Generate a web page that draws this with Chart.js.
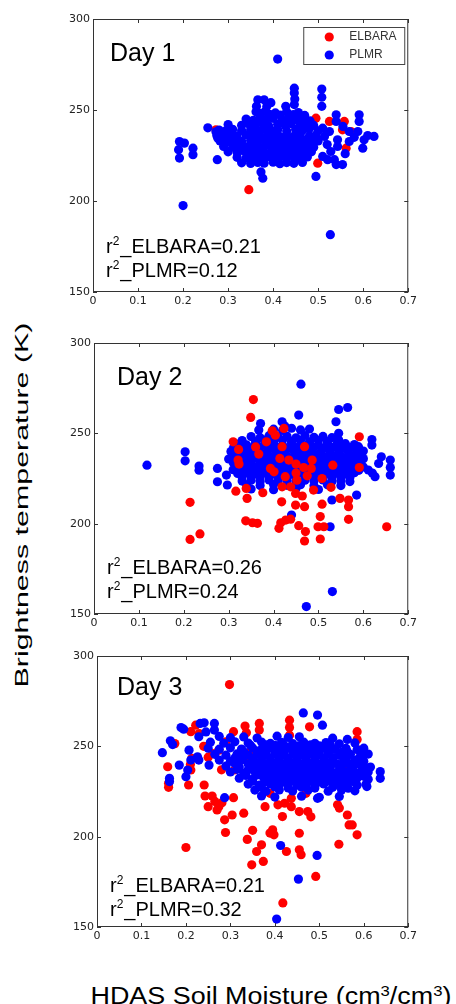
<!DOCTYPE html>
<html>
<head>
<meta charset="utf-8">
<script src="https://cdn.jsdelivr.net/npm/chart.js@4.4.0/dist/chart.umd.min.js"></script>
<style>
  body { margin: 0; background: #fff; width: 456px; height: 1004px; overflow: hidden; position: relative; font-family: 'Liberation Sans', Arial, sans-serif; }
  canvas { position: absolute; left: 60px; }
  #c1 { top: 0; }
  #c2 { top: 320px; }
  #c3 { top: 640px; }
  #ytitle { position: absolute; left: 21px; top: 505px; font-size: 19px; line-height: 1; white-space: nowrap; color: #000;
            transform: translate(-50%, -50%) rotate(-90deg) scaleX(1.6); }
  #xtitle { position: absolute; left: 271px; top: 985px; font-size: 23px; line-height: 1; white-space: nowrap; color: #000;
            transform: translateX(-50%) scaleX(1.17); }
  #xtitle sup { font-size: 0.62em; line-height: 0; vertical-align: 0.55em; }
</style>
</head>
<body>
<canvas id="c1" width="360" height="320"></canvas>
<canvas id="c2" width="360" height="320"></canvas>
<canvas id="c3" width="360" height="320"></canvas>
<div id="ytitle">Brightness temperature (K)</div>
<div id="xtitle">HDAS Soil Moisture (cm<sup>3</sup>/cm<sup>3</sup>)</div>
<script>
const xTicks = [0, 0.1, 0.2, 0.3, 0.4, 0.5, 0.6, 0.7];
const xTickLabels = ['0', '0.1', '0.2', '0.3', '0.4', '0.5', '0.6', '0.7'];
const yTicks = [150, 200, 250, 300];
const seriesNames = ['ELBARA', 'PLMR'];
const dayLabels = ['Day 1', 'Day 2', 'Day 3'];
const r2Elbara = ['0.21', '0.26', '0.21'];
const r2Plmr = ['0.12', '0.24', '0.32'];

// Day 1
const day1Elbara = [
  [0.346,206.2],[0.525,243.7],[0.558,243.7],[0.554,239.1],[0.562,229],[0.495,245.5],[0.499,220.8],
  [0.273,239.1],[0.573,238.2],[0.451,239.1],[0.40,236],[0.36,230]
];
const day1Plmr = [
  [0.41,278],[0.20,197.5],[0.527,181.5],[0.495,213.5],[0.373,216],[0.377,212.5],
  [0.192,232.7],[0.203,231.8],[0.19,228.2],[0.192,223.6],[0.222,229],[0.222,225.4],
  [0.255,240.2],[0.273,238],[0.277,234.6],[0.276,222.7],
  [0.447,262],[0.447,259.3],[0.448,256],[0.508,261.5],[0.508,257],[0.508,252],
  [0.366,255.6],[0.380,255.6],[0.363,252],[0.386,252],[0.395,254],[0.428,252],[0.447,253],
  [0.591,247.4],[0.591,243.7],[0.54,247.4],[0.54,243.7],[0.624,235.5],[0.602,233.6],[0.599,229],
  [0.588,238.2],[0.569,238.2],[0.569,232.7],[0.543,233.6],[0.543,230],[0.528,227.2],[0.521,222.7],
  [0.536,222.7],[0.54,220],[0.554,220],[0.51,224.5],[0.514,235.5],[0.525,238.2],[0.51,240],
  [0.56,226],[0.58,235],[0.61,236],[0.555,241],[0.52,231],
  [0.362,249],[0.372,248.2],[0.383,249.5],[0.392,247.6],[0.405,248.4],[0.416,247.2],[0.43,249],[0.445,247.5],[0.456,248.6],[0.47,247],
  [0.34,245],[0.356,244.3],[0.37,245.6],[0.384,244.8],[0.40,245.4],[0.42,244.5],[0.434,245.8],[0.452,244.6],[0.466,245.2],[0.482,244],
  [0.30,242],[0.33,241.6],[0.345,242.4],[0.36,241.8],[0.376,242.6],[0.39,241.4],[0.41,242.2],[0.426,241.7],[0.44,242.5],[0.46,241.6],[0.476,242.3],[0.49,241.5],
  [0.28,239],[0.295,238.6],[0.31,239.4],[0.33,238.8],[0.35,239.2],[0.366,238.5],[0.38,239.6],[0.396,238.8],[0.41,239.1],[0.43,238.4],[0.45,239.3],[0.465,238.7],[0.48,239.5],[0.50,238.6],
  [0.275,236],[0.29,235.6],[0.305,236.3],[0.32,235.8],[0.34,236.4],[0.355,235.5],[0.37,236.2],[0.386,235.7],[0.40,236.5],[0.415,235.4],[0.43,236.1],[0.446,235.6],[0.46,236.4],[0.48,235.5],[0.495,236.2],
  [0.282,233],[0.30,232.6],[0.315,233.4],[0.33,232.8],[0.35,233.2],[0.365,232.5],[0.38,233.5],[0.395,232.7],[0.41,233.3],[0.425,232.4],[0.44,233.1],[0.456,232.6],[0.47,233.4],[0.486,232.5],[0.50,233],
  [0.29,230],[0.31,229.6],[0.325,230.4],[0.34,229.8],[0.356,230.2],[0.37,229.5],[0.385,230.6],[0.40,229.7],[0.415,230.3],[0.43,229.4],[0.446,230.1],[0.46,229.6],[0.475,230.4],[0.49,229.5],
  [0.30,227],[0.32,226.6],[0.336,227.3],[0.35,226.8],[0.366,227.2],[0.38,226.5],[0.396,227.4],[0.41,226.7],[0.425,227.1],[0.44,226.4],[0.456,227.2],[0.47,226.6],[0.485,227],
  [0.32,224],[0.34,223.6],[0.356,224.3],[0.37,223.8],[0.386,224.2],[0.40,223.5],[0.415,224.4],[0.43,223.7],[0.446,224.1],[0.46,223.4],[0.476,224.2],
  [0.33,221],[0.35,220.6],[0.366,221.2],[0.38,220.8],[0.40,221.3],[0.415,220.5],[0.43,221.1],[0.446,220.7],[0.465,221.2]
];

// Day 2
const day2Elbara = [
  [0.355,268.7],[0.349,258.8],[0.423,252.7],[0.397,251.4],[0.384,245.3],[0.404,249],[0.31,245.3],[0.322,241.1],
  [0.321,235.2],[0.323,233],[0.367,238.5],[0.419,242.6],[0.469,242.6],[0.591,248.1],[0.591,231.1],
  [0.414,236.1],[0.434,235.2],[0.486,235.2],[0.484,230.6],[0.467,231.1],[0.532,232.4],[0.393,230.6],[0.401,228.7],
  [0.426,226],[0.45,228],[0.508,225],[0.452,224.1],[0.419,220.4],[0.438,220.4],[0.489,218.6],[0.528,220.1],
  [0.316,218],[0.339,219.5],[0.341,214],[0.376,217.1],[0.418,212.1],[0.449,216.7],[0.449,210.3],[0.464,215.3],
  [0.469,209.4],[0.508,210.8],[0.548,214],[0.567,213.1],[0.567,209.4],[0.567,202.4],[0.504,203.9],[0.499,198.3],[0.512,198.3],
  [0.214,211.8],[0.214,191.3],[0.236,194.3],[0.338,201.6],[0.353,200.5],[0.364,200.2],[0.416,200.5],[0.427,202],
  [0.438,202.5],[0.412,197.4],[0.456,198.9],[0.471,195.6],[0.469,190.4],[0.504,191.5],[0.652,198.3],
  [0.45,233],[0.475,226.5],[0.36,242.5]
];
const day2Plmr = [
  [0.461,277.2],[0.118,232.4],[0.203,239.8],[0.203,234.8],[0.234,231.9],[0.234,229.6],[0.275,230.6],[0.275,223.2],
  [0.295,226.9],[0.297,221.4],[0.545,263.2],[0.565,264.3],[0.539,256.4],[0.456,260.1],[0.419,256.4],[0.425,254],
  [0.371,255.4],[0.367,251.8],[0.619,246.6],[0.619,243.5],[0.634,233.3],[0.66,235.2],[0.66,231.1],[0.66,226.9],
  [0.626,226],[0.611,229.7],[0.589,242.6],[0.585,215.8],[0.53,213.1],[0.526,198.3],[0.44,204.8],[0.531,162.4],
  [0.473,154.1],[0.545,250],[0.545,246],[0.64,237],[0.62,228],
  [0.40,252.3],[0.42,251.6],[0.44,252.8],[0.46,251.9],[0.48,252.4],
  [0.35,248.2],[0.37,247.6],[0.39,248.7],[0.41,247.9],[0.43,248.4],[0.45,247.5],[0.47,248.8],[0.49,247.8],[0.51,248.3],[0.53,247.6],
  [0.33,246],[0.36,245.4],[0.38,246.2],[0.40,245.7],[0.42,246.3],[0.44,245.5],[0.46,246.1],[0.48,245.3],[0.50,246],[0.52,245.4],[0.545,246.2],
  [0.32,244.1],[0.34,243.6],[0.36,244.3],[0.38,243.8],[0.40,244.4],[0.42,243.5],[0.44,244.2],[0.46,243.7],[0.48,244.5],[0.50,243.6],[0.52,244.1],[0.54,243.5],[0.56,244.3],[0.58,243.8],
  [0.31,241.6],[0.33,242.2],[0.35,241.5],[0.37,242.4],[0.39,241.8],[0.41,242.3],[0.43,241.4],[0.45,242.1],[0.47,241.6],[0.49,242.4],[0.51,241.7],[0.53,242.2],[0.55,241.5],[0.57,242],[0.59,241.4],
  [0.305,239.9],[0.325,240.3],[0.345,239.6],[0.365,240.4],[0.385,239.7],[0.405,240.2],[0.425,239.5],[0.445,240.3],[0.465,239.8],[0.485,240.4],[0.505,239.6],[0.525,240.1],[0.545,239.7],[0.565,240.3],[0.585,239.5],[0.60,240.2],
  [0.31,237.8],[0.33,238.2],[0.35,237.5],[0.37,238.3],[0.39,237.6],[0.41,238.1],[0.43,237.4],[0.45,238.2],[0.47,237.7],[0.49,238.3],[0.51,237.5],[0.53,238],[0.55,237.6],[0.57,238.2],[0.59,237.4],
  [0.30,235.8],[0.32,236.3],[0.34,235.6],[0.36,236.4],[0.38,235.7],[0.40,236.2],[0.42,235.5],[0.44,236.3],[0.46,235.8],[0.48,236.4],[0.50,235.6],[0.52,236.1],[0.54,235.7],[0.56,236.3],[0.58,235.5],[0.60,236],
  [0.31,233.9],[0.33,234.3],[0.35,233.6],[0.37,234.4],[0.39,233.7],[0.41,234.2],[0.43,233.5],[0.45,234.3],[0.47,233.8],[0.49,234.4],[0.51,233.6],[0.53,234.1],[0.55,233.7],[0.57,234.3],[0.59,233.5],
  [0.32,231.8],[0.34,232.2],[0.36,231.5],[0.38,232.3],[0.40,231.6],[0.42,232.1],[0.44,231.4],[0.46,232.2],[0.48,231.7],[0.50,232.3],[0.52,231.5],[0.54,232],[0.56,231.6],[0.58,232.2],[0.60,231.4],
  [0.31,229.9],[0.33,230.3],[0.35,229.6],[0.37,230.4],[0.39,229.7],[0.41,230.2],[0.43,229.5],[0.45,230.3],[0.47,229.8],[0.49,230.4],[0.51,229.6],[0.53,230.1],[0.55,229.7],[0.57,230.3],[0.59,229.5],
  [0.32,227.8],[0.34,228.2],[0.36,227.5],[0.38,228.3],[0.40,227.6],[0.42,228.1],[0.44,227.4],[0.46,228.2],[0.48,227.7],[0.50,228.3],[0.52,227.5],[0.54,228],[0.56,227.6],[0.58,228.2],
  [0.33,225.8],[0.35,226.2],[0.37,225.5],[0.39,226.3],[0.41,225.6],[0.43,226.1],[0.45,225.4],[0.47,226.2],[0.49,225.7],[0.51,226.3],[0.53,225.5],[0.55,226],[0.57,225.6],
  [0.33,223.6],[0.35,224.1],[0.37,223.4],[0.39,224.2],[0.41,223.5],[0.43,224],[0.45,223.3],[0.47,224.1],[0.49,223.6],[0.51,224.2],[0.53,223.4],[0.55,223.9],[0.57,223.3],
  [0.34,221.5],[0.37,221.1],[0.40,221.7],[0.43,221.2],[0.46,221.6],[0.49,221],[0.52,221.5],[0.55,221.1],
  [0.35,219.2],[0.40,218.8],[0.45,219.4],[0.50,218.9]
];

// Day 3
const day3Elbara = [
  [0.298,284.2],[0.2,194],[0.211,258.1],[0.222,261.7],[0.23,257.1],[0.175,251.5],[0.159,238.7],[0.161,227.3],
  [0.161,229.5],[0.206,228.6],[0.211,236.9],[0.213,243.3],[0.21,240],
  [0.241,228.6],[0.243,222.5],[0.259,222.5],[0.25,216.6],[0.27,214.8],[0.287,209.3],[0.289,202.3],[0.281,218.8],
  [0.307,221.6],[0.304,212],[0.33,213],[0.274,216.6],[0.265,219.5],
  [0.274,247.9],[0.307,258.1],[0.333,261.2],[0.336,257.5],[0.365,262.7],[0.365,259],[0.433,264.5],[0.433,260.4],
  [0.433,256.2],[0.478,260.8],[0.585,258.1],[0.585,253.8],[0.589,247.9],[0.604,236],[0.604,233.2],
  [0.348,184.4],[0.374,186.3],[0.37,195.5],[0.359,191.8],[0.395,203.8],[0.398,201],[0.389,202],[0.422,218.5],
  [0.417,211.1],[0.426,191.8],[0.407,217.6],[0.437,216.6],[0.455,213.9],[0.474,213.9],[0.455,201.9],[0.455,192.7],
  [0.459,190],[0.492,178],[0.418,163.3],
  [0.541,217.6],[0.545,215.8],[0.567,206.5],[0.563,212],[0.574,206.5],[0.585,201],[0.544,195.8],
  [0.389,224],[0.378,216.6],[0.437,221.2],[0.47,224],[0.481,211],[0.35,203.5],[0.338,198.5],
  [0.355,236.9],[0.466,229.5],[0.43,240],[0.38,232],[0.50,238],[0.41,246],[0.52,234],[0.56,240],[0.55,230],[0.31,237],[0.32,245],
  [0.24,250],[0.26,246],[0.29,252.5],[0.345,247],[0.39,240.5],[0.44,233.5],[0.47,244],[0.34,241],[0.28,237],[0.25,244]
];
const day3Plmr = [
  [0.147,246.5],[0.165,253.1],[0.163,232.3],[0.163,230.5],[0.189,260.4],[0.195,259.5],[0.232,262.7],[0.241,263],
  [0.229,255.3],[0.207,247.9],[0.226,244.2],[0.185,239.6],[0.2,233.2],[0.204,236.9],[0.211,242.4],[0.229,242.4],
  [0.252,239.6],[0.264,262.7],[0.264,259],[0.287,221.6],[0.464,268.5],[0.496,267.3],[0.507,261.7],[0.637,236],
  [0.637,232.3],[0.607,227.7],[0.496,221.2],[0.554,233.2],[0.563,247],[0.404,154.4],[0.453,176.5],[0.495,189.6],
  [0.413,195.1],[0.17,251],[0.245,258],
  [0.275,255.5],[0.30,254.8],[0.33,255.2],[0.36,254.6],[0.405,255.6],[0.43,254.9],[0.455,255.3],[0.53,254.5],[0.563,253.8],
  [0.255,252.3],[0.285,251.7],[0.31,252.5],[0.34,251.8],[0.37,252.4],[0.39,251.6],[0.415,252.2],[0.44,251.5],[0.465,252.3],[0.49,251.7],[0.515,252.1],[0.545,251.4],[0.58,251.9],
  [0.25,249],[0.275,248.4],[0.30,249.2],[0.325,248.5],[0.35,249.1],[0.37,248.3],[0.39,249.3],[0.41,248.6],[0.43,249.2],[0.45,248.4],[0.47,249],[0.49,248.5],[0.51,249.1],[0.535,248.3],[0.56,248.9],[0.585,248.2],[0.60,249],
  [0.265,245.6],[0.29,245.1],[0.315,245.8],[0.34,245.2],[0.36,245.9],[0.38,245.3],[0.40,245.8],[0.42,245.1],[0.44,245.7],[0.46,245.2],[0.48,245.9],[0.50,245.3],[0.52,245.7],[0.545,245],[0.57,245.6],[0.595,245.1],[0.61,245.7],
  [0.275,242.4],[0.30,241.8],[0.325,242.5],[0.35,241.9],[0.37,242.6],[0.39,241.7],[0.41,242.4],[0.43,241.8],[0.45,242.5],[0.47,241.9],[0.49,242.3],[0.51,241.6],[0.53,242.4],[0.555,241.8],[0.58,242.3],[0.60,241.7],
  [0.29,239.1],[0.32,238.5],[0.345,239.2],[0.365,238.6],[0.385,239.3],[0.405,238.5],[0.425,239.1],[0.445,238.4],[0.465,239.2],[0.485,238.6],[0.505,239.3],[0.525,238.5],[0.55,239],[0.575,238.4],[0.60,239.1],[0.615,238.5],
  [0.30,235.8],[0.33,235.2],[0.355,235.9],[0.375,235.3],[0.395,236],[0.415,235.2],[0.435,235.8],[0.455,235.1],[0.475,235.9],[0.495,235.3],[0.515,236],[0.535,235.2],[0.56,235.7],[0.585,235.1],[0.61,235.8],
  [0.32,232.4],[0.35,231.8],[0.375,232.5],[0.395,231.9],[0.415,232.6],[0.435,231.7],[0.455,232.4],[0.475,231.8],[0.495,232.5],[0.515,231.9],[0.535,232.3],[0.56,231.6],[0.585,232.4],[0.61,231.8],
  [0.34,229.1],[0.365,228.5],[0.39,229.2],[0.41,228.6],[0.43,229.3],[0.45,228.5],[0.47,229.1],[0.49,228.4],[0.51,229.2],[0.535,228.6],[0.56,229.3],[0.585,228.5],[0.605,229],
  [0.355,225.8],[0.38,225.2],[0.41,225.9],[0.44,225.3],[0.475,225.8],[0.52,225.2],[0.55,225.9],[0.58,225.4],
  [0.37,222.5],[0.40,221.9],[0.46,222.4],[0.50,221.8],[0.545,222.3],
  [0.345,250.6],[0.38,250.8],[0.40,250.5],[0.42,250.9],[0.455,250.4],[0.48,250.8],[0.50,250.3],[0.525,250.7],
  [0.33,247],[0.36,247.3],[0.38,246.8],[0.40,247.2],[0.42,246.9],[0.44,247.4],[0.46,246.8],[0.48,247.2],[0.50,246.9],[0.52,247.3],[0.55,246.8],
  [0.31,243.6],[0.33,243.9],[0.35,243.4],[0.37,244],[0.39,243.5],[0.41,243.9],[0.43,243.4],[0.45,243.8],[0.47,243.3],[0.49,243.9],[0.51,243.5],[0.53,243.8],[0.56,243.4],[0.59,243.7],
  [0.31,240.5],[0.34,240.2],[0.36,240.7],[0.38,240.1],[0.40,240.6],[0.42,240.2],[0.44,240.7],[0.46,240.1],[0.48,240.6],[0.50,240.2],[0.52,240.6],[0.54,240.3],[0.565,240.7],[0.59,240.2],
  [0.315,237.3],[0.34,237],[0.36,237.5],[0.38,236.9],[0.40,237.4],[0.42,236.8],[0.44,237.3],[0.46,236.9],[0.48,237.4],[0.50,236.8],[0.52,237.3],[0.545,236.9],[0.57,237.4],[0.595,236.8],
  [0.335,233.9],[0.36,234.2],[0.385,233.7],[0.405,234.3],[0.425,233.8],[0.445,234.2],[0.465,233.6],[0.485,234.1],[0.505,233.7],[0.525,234.2],[0.55,233.6],[0.575,234.1],[0.60,233.5],
  [0.35,230.7],[0.38,230.4],[0.40,230.9],[0.42,230.3],[0.44,230.8],[0.46,230.2],[0.48,230.7],[0.50,230.3],[0.52,230.8],[0.55,230.2],[0.575,230.6],
  [0.37,227.2],[0.40,227.5],[0.43,227],[0.46,227.4],[0.49,226.9],[0.53,227.3],[0.565,226.8]
];

const elbaraSets = [day1Elbara, day2Elbara, day3Elbara];
const plmrSets = [day1Plmr, day2Plmr, day3Plmr];

// layout of each panel (chart area placement inside its canvas)
const panels = [
  { id: 'c1', yWidth: 33, xHeight: 28, padTop: 19, padRight: 11, dayPos: [17, 42], r2Pos: [13, -39, -15], legend: true,  plmrOnTop: true },
  { id: 'c2', yWidth: 34, xHeight: 26, padTop: 23, padRight: 10, dayPos: [23, 42], r2Pos: [13, -40, -16], legend: false, plmrOnTop: false },
  { id: 'c3', yWidth: 37, xHeight: 33, padTop: 16, padRight: 8,  dayPos: [20, 39], r2Pos: [13, -35, -11], legend: false, plmrOnTop: true }
];

const RED = 'rgb(255,0,0)';
const BLUE = 'rgb(0,0,255)';
const DOT = 4.6;

function drawR2(ctx, name, value, x, y) {
  ctx.font = '20px "Liberation Sans", Arial';
  ctx.fillText('r', x, y);
  let w = ctx.measureText('r').width;
  ctx.font = '12px "Liberation Sans", Arial';
  ctx.fillText('2', x + w, y - 8);
  w += ctx.measureText('2').width + 1;
  ctx.font = '20px "Liberation Sans", Arial';
  ctx.fillText('_' + name + '=' + value, x + w, y);
}

const panelDecor = {
  id: 'panelDecor',
  afterDraw(chart, args, opts) {
    const { ctx, chartArea: a, scales: { x, y } } = chart;
    ctx.save();
    ctx.strokeStyle = '#333';
    ctx.lineWidth = 1;
    ctx.strokeRect(a.left + 0.5, a.top + 0.5, a.width - 1, a.height - 1);
    ctx.beginPath();
    x.ticks.forEach(t => {
      const px = Math.round(x.getPixelForValue(t.value)) + 0.5;
      ctx.moveTo(px, a.bottom); ctx.lineTo(px, a.bottom - 4);
      ctx.moveTo(px, a.top); ctx.lineTo(px, a.top + 4);
    });
    y.ticks.forEach(t => {
      const py = Math.round(y.getPixelForValue(t.value)) + 0.5;
      ctx.moveTo(a.left, py); ctx.lineTo(a.left + 4, py);
      ctx.moveTo(a.right, py); ctx.lineTo(a.right - 4, py);
    });
    ctx.stroke();

    ctx.fillStyle = '#000';
    ctx.textBaseline = 'alphabetic';
    ctx.textAlign = 'left';
    ctx.font = '25px "Liberation Sans", Arial';
    ctx.fillText(opts.day, a.left + opts.dayPos[0], a.top + opts.dayPos[1]);
    drawR2(ctx, seriesNames[0], opts.r2[0], a.left + opts.r2Pos[0], a.bottom + opts.r2Pos[1]);
    drawR2(ctx, seriesNames[1], opts.r2[1], a.left + opts.r2Pos[0], a.bottom + opts.r2Pos[2]);

    if (opts.legend) {
      const bx = a.right - 105, by = a.top + 8, bw = 101, bh = 37;
      ctx.fillStyle = '#fff';
      ctx.fillRect(bx, by, bw, bh);
      ctx.strokeStyle = '#444';
      ctx.strokeRect(bx + 0.5, by + 0.5, bw, bh);
      ctx.font = '12px "Liberation Sans", Arial';
      ctx.textBaseline = 'middle';
      [RED, BLUE].forEach((c, i) => {
        const cy = by + 10 + i * 18;
        ctx.fillStyle = c;
        ctx.beginPath();
        ctx.arc(bx + 26, cy, DOT, 0, Math.PI * 2);
        ctx.fill();
        ctx.fillStyle = '#333';
        ctx.fillText(seriesNames[i], bx + 46, cy);
      });
    }
    ctx.restore();
  }
};

const toPoints = arr => arr.map(p => ({ x: p[0], y: p[1] }));

panels.forEach((p, i) => {
  new Chart(document.getElementById(p.id), {
    type: 'scatter',
    data: {
      datasets: [{
        label: seriesNames[0],
        data: toPoints(elbaraSets[i]),
        backgroundColor: RED,
        borderWidth: 0,
        pointRadius: DOT,
        order: p.plmrOnTop ? 2 : 1
      }, {
        label: seriesNames[1],
        data: toPoints(plmrSets[i]),
        backgroundColor: BLUE,
        borderWidth: 0,
        pointRadius: DOT,
        order: p.plmrOnTop ? 1 : 2
      }]
    },
    options: {
      responsive: false,
      animation: false,
      devicePixelRatio: 1,
      layout: { padding: { top: p.padTop, right: p.padRight, left: 0, bottom: 0 } },
      plugins: {
        legend: { display: false },
        tooltip: { enabled: false },
        panelDecor: {
          day: dayLabels[i],
          r2: [r2Elbara[i], r2Plmr[i]],
          dayPos: p.dayPos,
          r2Pos: p.r2Pos,
          legend: p.legend
        }
      },
      scales: {
        x: {
          type: 'linear',
          min: 0,
          max: 0.7,
          afterBuildTicks: s => { s.ticks = xTicks.map(v => ({ value: v })); },
          afterFit: s => { s.height = p.xHeight; },
          grid: { display: false, drawTicks: false },
          border: { display: false },
          ticks: {
            padding: 3,
            color: '#222',
            font: { family: 'DejaVu Sans', size: 11 },
            maxRotation: 0,
            callback: (v, idx) => xTickLabels[idx]
          }
        },
        y: {
          type: 'linear',
          min: 150,
          max: 300,
          afterBuildTicks: s => { s.ticks = yTicks.map(v => ({ value: v })); },
          afterFit: s => { s.width = p.yWidth; },
          grid: { display: false, drawTicks: false },
          border: { display: false },
          ticks: {
            padding: 3,
            color: '#222',
            font: { family: 'DejaVu Sans', size: 11 },
            callback: v => String(v)
          }
        }
      }
    },
    plugins: [panelDecor]
  });
});
</script>
</body>
</html>
